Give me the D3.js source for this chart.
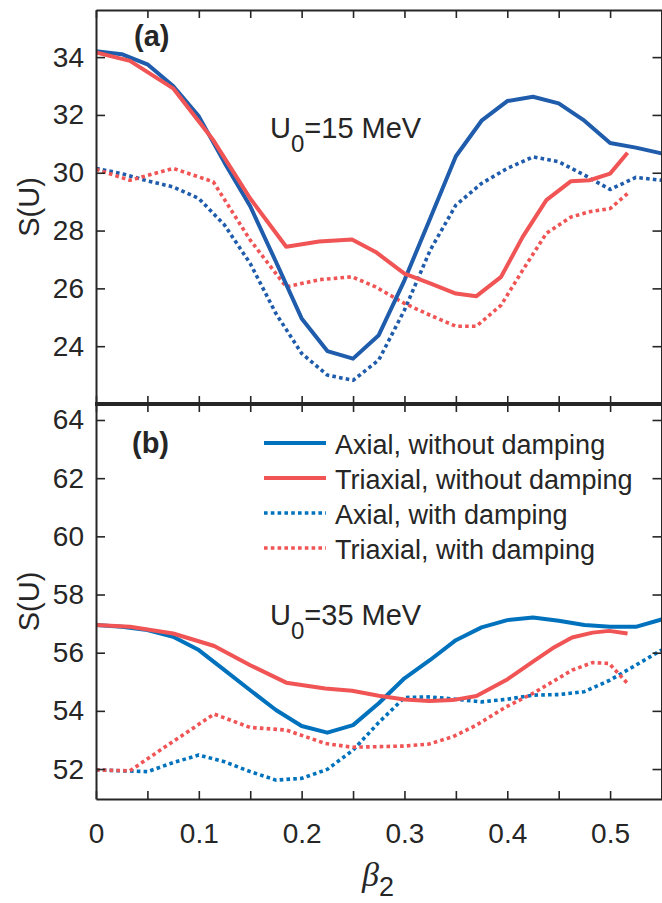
<!DOCTYPE html>
<html>
<head>
<meta charset="utf-8">
<script src="https://cdn.jsdelivr.net/npm/d3@7"></script>
<style>
  body { margin: 0; background: #fff; }
  text { font-family: "Liberation Sans", Arial, sans-serif; fill: #262626; }
</style>
</head>
<body>
<div class="svg-container"></div>
<script>
// beta_2 grids
const betaAxial = [0, 0.025, 0.05, 0.075, 0.1, 0.125, 0.15, 0.175, 0.2, 0.225, 0.25, 0.275,
  0.3, 0.325, 0.35, 0.375, 0.4, 0.425, 0.45, 0.475, 0.5, 0.525, 0.55];
const betaTriA = [0, 0.033, 0.075, 0.114, 0.15, 0.185, 0.217, 0.249, 0.272, 0.3, 0.325,
  0.35, 0.37, 0.394, 0.415, 0.438, 0.462, 0.48, 0.5, 0.517];
const betaTriB = [0, 0.033, 0.075, 0.115, 0.15, 0.185, 0.223, 0.249, 0.275, 0.3, 0.324,
  0.347, 0.37, 0.399, 0.425, 0.444, 0.463, 0.483, 0.499, 0.517];

// panel (a), U0 = 15 MeV
const axialNoDampA = [34.2, 34.1, 33.75, 33.0, 31.95, 30.35, 28.84, 26.92, 24.96, 23.83, 23.57, 24.38,
  26.28, 28.42, 30.57, 31.8, 32.48, 32.63, 32.4, 31.8, 31.03, 30.87, 30.67];
const axialDampA = [30.15, 29.97, 29.72, 29.51, 29.11, 28.19, 26.86, 25.13, 23.75, 23.0, 22.82, 23.52,
  25.25, 27.32, 28.88, 29.63, 30.15, 30.55, 30.38, 29.92, 29.42, 29.84, 29.74];
const triNoDampA = [34.16, 33.87, 32.92, 31.13, 29.11, 27.44, 27.62, 27.69, 27.26, 26.51, 26.17,
  25.82, 25.73, 26.4, 27.78, 29.05, 29.71, 29.74, 29.97, 30.69];
const triDampA = [30.12, 29.74, 30.15, 29.69, 27.67, 26.05, 26.3, 26.4, 26.05, 25.48, 25.07,
  24.69, 24.69, 25.42, 26.63, 27.9, 28.47, 28.65, 28.76, 29.28];

// panel (b), U0 = 35 MeV
const axialNoDampB = [56.95, 56.89, 56.78, 56.55, 56.09, 55.4, 54.71, 54.03, 53.48, 53.25, 53.51, 54.26,
  55.12, 55.75, 56.43, 56.87, 57.12, 57.21, 57.1, 56.95, 56.89, 56.89, 57.14];
const axialDampB = [51.97, 51.94, 51.91, 52.22, 52.48, 52.25, 51.91, 51.62, 51.68, 51.99, 52.65, 53.6,
  54.46, 54.48, 54.4, 54.31, 54.4, 54.54, 54.56, 54.66, 55.06, 55.57, 56.09];
const triNoDampB = [56.95, 56.89, 56.66, 56.23, 55.57, 54.97, 54.77, 54.69, 54.52, 54.39, 54.34,
  54.37, 54.51, 55.06, 55.69, 56.15, 56.52, 56.69, 56.75, 56.66];
const triDampB = [51.97, 51.94, 52.95, 53.89, 53.43, 53.34, 52.88, 52.75, 52.77, 52.79, 52.86,
  53.11, 53.51, 54.14, 54.6, 55.0, 55.4, 55.66, 55.63, 54.94];

// ticks
const xTicks = [0, 0.05, 0.1, 0.15, 0.2, 0.25, 0.3, 0.35, 0.4, 0.45, 0.5, 0.55];
const xTickLabels = ["0", "", "0.1", "", "0.2", "", "0.3", "", "0.4", "", "0.5", ""];
const yTicksA = [24, 26, 28, 30, 32, 34];
const yTicksB = [52, 54, 56, 58, 60, 62, 64];

const seriesNames = ["Axial, without damping", "Triaxial, without damping",
  "Axial, with damping", "Triaxial, with damping"];

const width = 662;
const height = 903;
const left = 96, right = 661.5;
const red = "#f05454";
const solidW = 4, dotW = 3.6, dotDash = "3.6,3.2";

const svg = d3.select(".svg-container").append("svg")
  .attr("width", width).attr("height", height);

const x = d3.scaleLinear().domain([0, 0.55]).range([left, right]);

function drawPanel(p) {
  const y = d3.scaleLinear().domain(p.yDomain).range([p.bottom, p.top]);
  const g = svg.append("g");

  g.append("clipPath").attr("id", p.id)
    .append("rect").attr("x", left).attr("y", p.top)
    .attr("width", right - left).attr("height", p.bottom - p.top);

  const line = (xs) => d3.line().x((d, i) => x(xs[i])).y((d) => y(d));

  const series = [
    { xs: betaAxial, v: p.axialNo, color: p.blue, dash: null },
    { xs: p.triX, v: p.triNo, color: red, dash: null },
    { xs: betaAxial, v: p.axialD, color: p.blue, dash: dotDash },
    { xs: p.triX, v: p.triD, color: red, dash: dotDash },
  ];
  // draw dotted first, then solid
  [2, 3, 0, 1].forEach((k) => {
    const s = series[k];
    g.append("path")
      .datum(s.v)
      .attr("clip-path", `url(#${p.id})`)
      .attr("fill", "none")
      .attr("stroke", s.color)
      .attr("stroke-width", s.dash ? dotW : solidW)
      .attr("stroke-dasharray", s.dash)
      .attr("stroke-linejoin", "round")
      .attr("d", line(s.xs));
  });

  // axes, MATLAB style box with inward ticks
  const bottomAxis = g.append("g")
    .attr("transform", `translate(0,${p.bottom})`)
    .call(d3.axisBottom(x).tickValues(xTicks).tickSizeInner(-8).tickSizeOuter(0)
      .tickPadding(24)
      .tickFormat((d, i) => (p.xLabels ? xTickLabels[i] : "")));
  const topAxis = g.append("g")
    .attr("transform", `translate(0,${p.top})`)
    .call(d3.axisTop(x).tickValues(xTicks).tickSizeInner(-8).tickSizeOuter(0).tickFormat(""));
  const leftAxis = g.append("g")
    .attr("transform", `translate(${left},0)`)
    .call(d3.axisLeft(y).tickValues(p.yTicks).tickSizeInner(-9).tickSizeOuter(0).tickPadding(12));
  const rightAxis = g.append("g")
    .attr("transform", `translate(${right},0)`)
    .call(d3.axisRight(y).tickValues(p.yTicks).tickSizeInner(-9).tickSizeOuter(0).tickFormat(""));

  [bottomAxis, topAxis, leftAxis, rightAxis].forEach((a) => {
    a.select(".domain").attr("stroke", "#262626").attr("stroke-width", 2);
    a.selectAll(".tick line").attr("stroke", "#262626").attr("stroke-width", 1.6);
    a.selectAll(".tick text").style("font-size", "28px").attr("fill", "#262626")
      .style("font-family", "'Liberation Sans', Arial, sans-serif");
  });

  // y label
  g.append("text")
    .attr("transform", `translate(39,${(p.top + p.bottom) / 2}) rotate(-90)`)
    .attr("text-anchor", "middle")
    .style("font-size", "29px")
    .text("S(U)");

  // panel tag
  g.append("text")
    .attr("x", p.tagX).attr("y", p.tagY)
    .style("font-size", "29px").style("font-weight", "bold")
    .text(p.tag);

  // energy annotation
  const t = g.append("text")
    .attr("x", 270).attr("y", p.annY)
    .style("font-size", "29px");
  t.append("tspan").text("U");
  t.append("tspan").attr("dy", 14).style("font-size", "24px").text("0");
  t.append("tspan").attr("dy", -14).text(`=${p.energy} MeV`);

  return y;
}

drawPanel({
  id: "clipA", top: 10, bottom: 404, yDomain: [22, 35.63], yTicks: yTicksA,
  axialNo: axialNoDampA, axialD: axialDampA, triNo: triNoDampA, triD: triDampA,
  triX: betaTriA, blue: "#1f5cab", xLabels: false,
  tag: "(a)", tagX: 134, tagY: 46, annY: 138, energy: 15,
});

drawPanel({
  id: "clipB", top: 404, bottom: 799, yDomain: [50.97, 64.55], yTicks: yTicksB,
  axialNo: axialNoDampB, axialD: axialDampB, triNo: triNoDampB, triD: triDampB,
  triX: betaTriB, blue: "#0072bd", xLabels: true,
  tag: "(b)", tagX: 132, tagY: 453, annY: 625, energy: 35,
});

// thick shared border between the panels
svg.append("line")
  .attr("x1", left - 1).attr("x2", right + 1)
  .attr("y1", 404).attr("y2", 404)
  .attr("stroke", "#262626").attr("stroke-width", 4);

// legend
const legendColors = ["#0072bd", red, "#0072bd", red];
const legendDash = [null, null, dotDash, dotDash];
const legend = svg.append("g");
seriesNames.forEach((name, i) => {
  const ly = 443 + i * 35;
  legend.append("line")
    .attr("x1", 264).attr("x2", 326).attr("y1", ly).attr("y2", ly)
    .attr("stroke", legendColors[i])
    .attr("stroke-width", legendDash[i] ? dotW : solidW)
    .attr("stroke-dasharray", legendDash[i]);
  legend.append("text")
    .attr("x", 335).attr("y", ly + 11)
    .style("font-size", "27px")
    .attr("fill", "#000")
    .text(name);
});

// x label: beta_2
const xl = svg.append("text")
  .attr("x", 362).attr("y", 886)
  .style("font-family", "'Liberation Serif', serif");
xl.append("tspan").style("font-style", "italic").style("font-size", "34px").text("β");
xl.append("tspan").attr("dy", 10).style("font-size", "27px")
  .style("font-family", "'Liberation Sans', Arial, sans-serif").text("2");
</script>
</body>
</html>
